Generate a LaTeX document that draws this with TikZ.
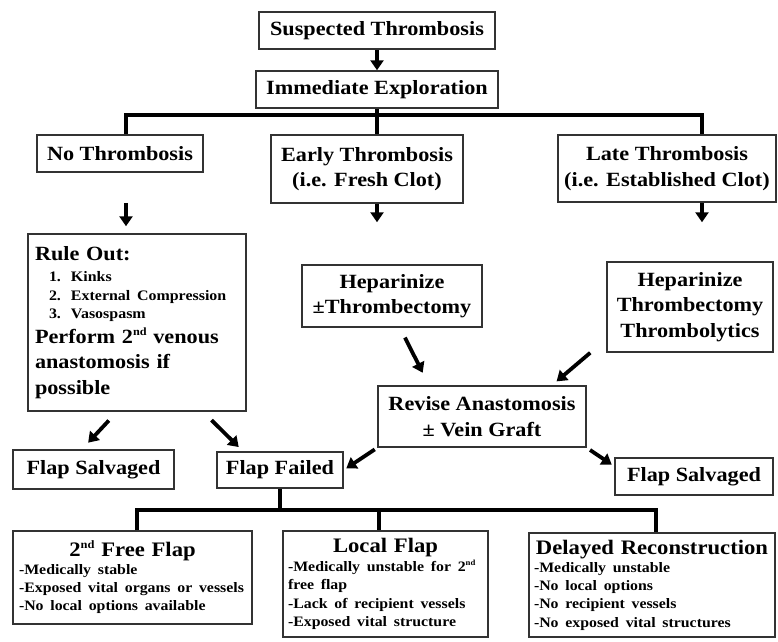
\documentclass[tikz,border=0pt]{standalone}
\usepackage{fontspec}
\setmainfont{Liberation Serif}[FakeStretch=1.1]
\usetikzlibrary{arrows.meta}
\setlength{\parindent}{0pt}
\hyphenpenalty=10000
\exhyphenpenalty=10000
% small raised ordinal suffix
\newcommand{\supnd}{\raisebox{0.85ex}{\scalebox{0.55}{nd}}}
\begin{document}
\begin{tikzpicture}[x=1pt,y=-1pt,
  box/.style={draw=black!80, line width=1.5pt, fill=white, inner xsep=6pt, inner ysep=3pt,
    align=center, font=\bfseries\fontsize{20.2}{25.5}\selectfont},
  listbox/.style={box, align=left, inner xsep=7pt},
  arr/.style={line width=3.8pt, black, -{Triangle[width=13pt,length=10pt]}},
  bar/.style={line width=4.6pt, black, line join=miter}
]
\useasboundingbox (0,0) rectangle (778,641);

% --- top of the chart
\node[box, minimum width=236pt, minimum height=37pt] (susp) at (377,30.5) {Suspected Thrombosis};
\node[box, minimum width=242pt, minimum height=37pt] (immed) at (377,89.5) {Immediate Exploration};

\node[box, minimum width=166pt, minimum height=37pt] (nothr) at (120,153.5) {No Thrombosis};
\node[box, minimum width=192pt, minimum height=68pt] (early) at (367,169) {Early Thrombosis\\(i.e. Fresh Clot)};
\node[box, minimum width=216pt, minimum height=67pt] (late) at (667,168.5) {Late Thrombosis\\(i.e. Established Clot)};

% --- management by finding
\node[listbox, text width=204pt, minimum height=177pt] (rule) at (137,322.5) {%
  {\fontsize{20.2}{25.5}\selectfont Rule Out:\par}
  \vspace{3pt}
  {\fontsize{14.5}{18.5}\selectfont
  \hspace*{14pt}\makebox[22pt][l]{1.}Kinks\par
  \hspace*{14pt}\makebox[22pt][l]{2.}External Compression\par
  \hspace*{14pt}\makebox[22pt][l]{3.}Vasospasm\par}
  \vspace{-1pt}
  Perform 2\supnd{} venous\\anastomosis if\\possible};

\node[box, minimum width=180pt, minimum height=62pt] (hepE) at (392,296) {Heparinize\\±Thrombectomy};
\node[box, minimum width=166pt, minimum height=90pt] (hepL) at (690,307) {Heparinize\\Thrombectomy\\Thrombolytics};
\node[box, minimum width=208pt, minimum height=61pt] (revise) at (482,416.5) {Revise Anastomosis\\± Vein Graft};

% --- outcomes
\node[box, minimum width=161pt, minimum height=39pt] (salvL) at (93.5,469.5) {Flap Salvaged};
\node[box, minimum width=126pt, minimum height=36pt] (failed) at (280,470) {Flap Failed};
\node[box, minimum width=158pt, minimum height=37pt] (salvR) at (694,476.5) {Flap Salvaged};

% --- reconstruction options
\node[listbox, inner xsep=6pt, text width=227pt, minimum height=93pt] (free) at (132.5,577.5) {%
  {\centering\fontsize{20.6}{24}\selectfont 2\supnd{} Free Flap\par}
  {\fontsize{14.4}{18}\selectfont -Medically stable\\-Exposed vital organs or vessels\\-No local options available\par}};
\node[listbox, inner xsep=5pt, text width=195pt, minimum height=106pt] (local) at (385.5,584) {%
  {\centering\fontsize{20.6}{24}\selectfont Local Flap\par}
  {\fontsize{14.4}{18.5}\selectfont -Medically unstable for 2\supnd\\free flap\\-Lack of recipient vessels\\-Exposed vital structure\par}};
\node[listbox, inner xsep=5pt, text width=236pt, minimum height=104pt] (delayed) at (652,585) {%
  {\centering\fontsize{20.6}{24}\selectfont Delayed Reconstruction\par}
  {\fontsize{14.4}{18.3}\selectfont -Medically unstable\\-No local options\\-No recipient vessels\\-No exposed vital structures\par}};

% --- tree bars
\coordinate (tL) at (126,115);
\coordinate (tR) at (702,115);
\draw[bar] (immed.south) -- (immed.south |- tL);
\draw[bar] (nothr.north -| tL) -- (tL) -- (tR) -- (late.north -| tR);
\draw[bar] (immed.south |- tL) -- (early.north -| immed.south);

\coordinate (bL) at (137,510);
\coordinate (bM) at (379,510);
\coordinate (bR) at (656,510);
\draw[bar] (failed.south) -- (failed.south |- bL);
\draw[bar] (free.north -| bL) -- (bL) -- (bR) -- (delayed.north -| bR);
\draw[bar] (bM) -- (local.north -| bM);

% --- arrows
\draw[arr] (susp.south) -- (immed.north);
\draw[arr, shorten <=30pt, shorten >=7pt] (nothr.south -| tL) -- (rule.north -| tL);
\draw[arr, shorten >=42pt] (early.south -| immed.south) -- (hepE.north -| immed.south);
\draw[arr, shorten >=39pt] (late.south -| tR) -- (hepL.north -| tR);
\draw[arr, shorten <=11pt, shorten >=14pt] ([xshift=8pt]hepE.south) -- ([xshift=-53pt]revise.north);
\draw[arr, shorten >=6pt] ([xshift=-16pt]hepL.south west) -- ([xshift=70pt]revise.north);
\draw[arr, shorten <=12pt, shorten >=9pt] ([xshift=-20pt]rule.south) -- ([xshift=-11.5pt]salvL.north);
\draw[arr, shorten <=12pt, shorten >=6pt] ([xshift=66pt]rule.south) -- ([xshift=-37pt]failed.north);
\draw[arr, shorten <=3pt, shorten >=3pt] (revise.south west) -- (failed.east);
\draw[arr, shorten <=4pt, shorten >=3pt] (revise.south east) -- ([yshift=-9pt]salvR.north west);
\end{tikzpicture}
\end{document}
